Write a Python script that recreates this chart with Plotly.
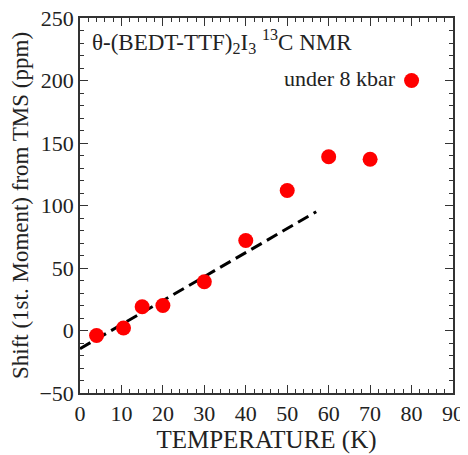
import plotly.graph_objects as go

temps = [4, 10.5, 15, 20, 30, 40, 50, 60, 70, 80]
shifts = [-4, 2, 19, 20, 39, 72, 112, 139, 137, 200]
fit_x = [0, 57]
fit_y = [-14.5, 95]

FONT = "Liberation Serif, Times New Roman, serif"
INK = "#222"

fig = go.Figure()
fig.add_trace(go.Scatter(x=fit_x, y=fit_y, mode="lines",
                         line=dict(color="black", width=3, dash="12px,6px"),
                         showlegend=False))
fig.add_trace(go.Scatter(x=temps, y=shifts, mode="markers",
                         marker=dict(color="#ff0000", size=15),
                         showlegend=False))

axis_common = dict(showline=True, linecolor="#333", linewidth=1.5, mirror="allticks",
                   ticks="inside", ticklen=8, tickwidth=1.2, tickcolor="#333",
                   showgrid=False, zeroline=False, ticklabeloverflow="allow",
                   tickfont=dict(family=FONT, size=22, color=INK))

fig.update_xaxes(range=[0, 90], dtick=10,
                 minor=dict(ticks="inside", ticklen=4, dtick=2, tickcolor="#333"),
                 title=dict(text="TEMPERATURE (K)", font=dict(family=FONT, size=25, color=INK), standoff=0),
                 **axis_common)
fig.update_yaxes(range=[-50, 250], dtick=50,
                 minor=dict(ticks="inside", ticklen=4, dtick=10, tickcolor="#333"),
                 title=dict(text="Shift (1st. Moment) from TMS (ppm)", font=dict(family=FONT, size=23, color=INK), standoff=4),
                 **axis_common)

fig.add_annotation(x=0.027, y=0.936, xref="paper", yref="paper", xanchor="left", yanchor="middle",
                   text="θ-(BEDT-TTF)<sub>2</sub>I<sub>3</sub> <sup>13</sup>C NMR", showarrow=False,
                   font=dict(family=FONT, size=23, color=INK))
fig.add_annotation(x=0.853, y=0.84, xref="paper", yref="paper", xanchor="right", yanchor="middle",
                   text="under 8 kbar", showarrow=False,
                   font=dict(family=FONT, size=22, color=INK))

fig.update_layout(width=460, height=447, margin=dict(l=72, r=15, t=10, b=62, autoexpand=False),
                  plot_bgcolor="white", paper_bgcolor="white")

fig.write_html("out.html")
